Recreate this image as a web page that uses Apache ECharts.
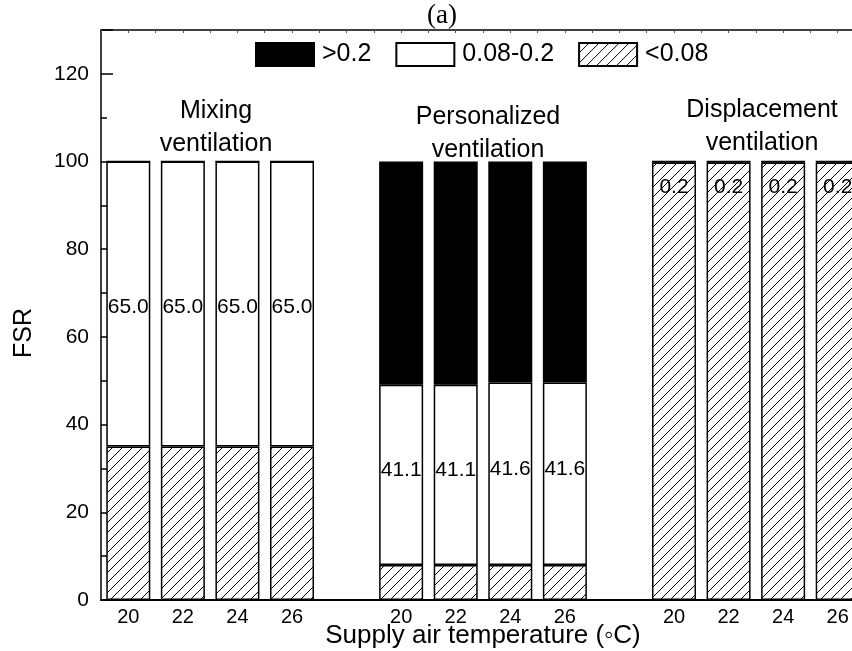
<!DOCTYPE html>
<html>
<head>
<meta charset="utf-8">
<script src="https://cdn.jsdelivr.net/npm/echarts@6/dist/echarts.min.js"></script>
<style>
  html, body { margin: 0; padding: 0; background: #fff; }
  #chart { width: 852px; height: 651px; }
</style>
</head>
<body>
<div id="chart"></div>
<script>
// supply air temperatures per group
const temps = ['20', '22', '24', '26']
const groups = ['Mixing\nventilation', 'Personalized\nventilation', 'Displacement\nventilation']

// FSR share (%) per band, one array per group
const mixingLow = [35, 35, 35, 35]
const mixingMid = [65, 65, 65, 65]
const mixingHigh = [0, 0, 0, 0]
const personalLow = [8, 8, 8, 8]
const personalMid = [41.1, 41.1, 41.6, 41.6]
const personalHigh = [50.9, 50.9, 50.4, 50.4]
const displaceLow = [99.8, 99.8, 99.8, 99.8]
const displaceMid = [0.2, 0.2, 0.2, 0.2]
const displaceHigh = [0, 0, 0, 0]

const yTicks = [0, 20, 40, 60, 80, 100, 120]

// one empty slot between groups
const gap = [null]
const categories = []
const tickLabels = []
groups.forEach((g, gi) => {
  temps.forEach(t => { categories.push(gi + '-' + t); tickLabels.push(t) })
  if (gi < groups.length - 1) { categories.push('gap' + gi); tickLabels.push('') }
})
const low = [...mixingLow, ...gap, ...personalLow, ...gap, ...displaceLow]
const mid = [...mixingMid, ...gap, ...personalMid, ...gap, ...displaceMid]
const high = [...mixingHigh, ...gap, ...personalHigh, ...gap, ...displaceHigh]

function hatchPattern() {
  const c = document.createElement('canvas')
  c.width = 10
  c.height = 10
  const g = c.getContext('2d')
  g.fillStyle = '#fff'
  g.fillRect(0, 0, 10, 10)
  g.strokeStyle = '#000'
  g.lineWidth = 1
  g.beginPath()
  g.moveTo(0, 10); g.lineTo(10, 0)
  g.moveTo(-5, 5); g.lineTo(5, -5)
  g.moveTo(5, 15); g.lineTo(15, 5)
  g.stroke()
  return c
}

const font = '"Liberation Sans", Arial, sans-serif'
const chart = echarts.init(document.getElementById('chart'))

// label placement of the 0.08-0.2 band differs per group
const midData = mid.map((v, i) => {
  if (v == null) return v
  if (i < 4) return { value: v, label: { offset: [0, 3] } }
  if (i < 9) return { value: v, label: { offset: [0, -5] } }
  return { value: v, label: { position: 'bottom', distance: 14 } }
})

const barStyle = { borderColor: '#000', borderWidth: 1.5 }

const option = {
  animation: false,
  title: {
    text: '(a)', left: 437, top: -3, textAlign: 'center',
    textStyle: { fontFamily: '"Liberation Serif", "Times New Roman", serif', fontSize: 27, fontWeight: 'normal', color: '#000' },
  },
  legend: {
    left: 255, top: 42, padding: 0,
    icon: 'rect',
    itemWidth: 58, itemHeight: 23, itemGap: 24,
    data: ['>0.2', '0.08-0.2', '<0.08'],
    textStyle: { fontFamily: font, fontSize: 25, color: '#000', padding: [0, 0, 0, 3] },
  },
  grid: { left: 101, top: 30, width: 764, height: 570, outerBoundsMode: 'none' },
  xAxis: [
    {
      type: 'category',
      data: categories,
      position: 'bottom',
      axisLine: { lineStyle: { color: '#000', width: 2 } },
      axisTick: { show: false },
      axisLabel: {
        interval: 0, margin: 7, color: '#000', fontFamily: font, fontSize: 20,
        formatter: (v, i) => tickLabels[i],
      },
      name: 'Supply air temperature (◦C)',
      nameLocation: 'middle',
      nameGap: 23,
      nameMoveOverlap: false,
      nameTextStyle: { fontFamily: font, fontSize: 26, color: '#000' },
    },
    {
      type: 'value', position: 'top', min: 0, max: 14, interval: 0.5,
      axisLine: { show: true, lineStyle: { color: '#000', width: 1.5 } },
      axisTick: { show: true, inside: true, length: 3, lineStyle: { color: '#555' } },
      axisLabel: { show: false },
      splitLine: { show: false },
    },
  ],
  yAxis: {
    type: 'value', min: 0, max: 130, interval: 20,
    axisLine: { show: true, lineStyle: { color: '#000', width: 1.5 } },
    axisTick: { show: true, inside: true, length: 12, lineStyle: { color: '#000', width: 1.5 } },
    minorTick: { show: true, splitNumber: 2, length: 6, lineStyle: { color: '#000', width: 1.5 } },
    splitLine: { show: false },
    axisLabel: {
      margin: 12, color: '#000', fontFamily: font, fontSize: 21,
      formatter: v => (yTicks.includes(v) ? String(v) : ''),
    },
  },
  series: [
    {
      name: '<0.08', type: 'bar', stack: 'fsr', barWidth: 44, data: low,
      itemStyle: { ...barStyle, color: { image: hatchPattern(), repeat: 'repeat' } },
    },
    {
      name: '0.08-0.2', type: 'bar', stack: 'fsr', barWidth: 44, data: midData,
      itemStyle: { ...barStyle, color: '#fff' },
      label: {
        show: true, position: 'inside', color: '#000',
        fontFamily: font, fontSize: 21,
        formatter: p => (p.value ? p.value.toFixed(1) : ''),
      },
    },
    {
      name: '>0.2', type: 'bar', stack: 'fsr', barWidth: 44, data: high,
      itemStyle: { ...barStyle, color: '#000' },
    },
  ],
  graphic: [
    { type: 'text', x: 24, y: 333, rotation: Math.PI / 2, style: { text: 'FSR', textAlign: 'center', textVerticalAlign: 'middle', font: '25px ' + font, fill: '#000' } },
    { type: 'text', x: 216, y: 95, style: { text: groups[0], textAlign: 'center', font: '25px ' + font, lineHeight: 33, fill: '#000' } },
    { type: 'text', x: 488, y: 101, style: { text: groups[1], textAlign: 'center', font: '25px ' + font, lineHeight: 33, fill: '#000' } },
    { type: 'text', x: 762, y: 94, style: { text: groups[2], textAlign: 'center', font: '25px ' + font, lineHeight: 33, fill: '#000' } },
  ],
}

chart.setOption(option)
</script>
</body>
</html>
